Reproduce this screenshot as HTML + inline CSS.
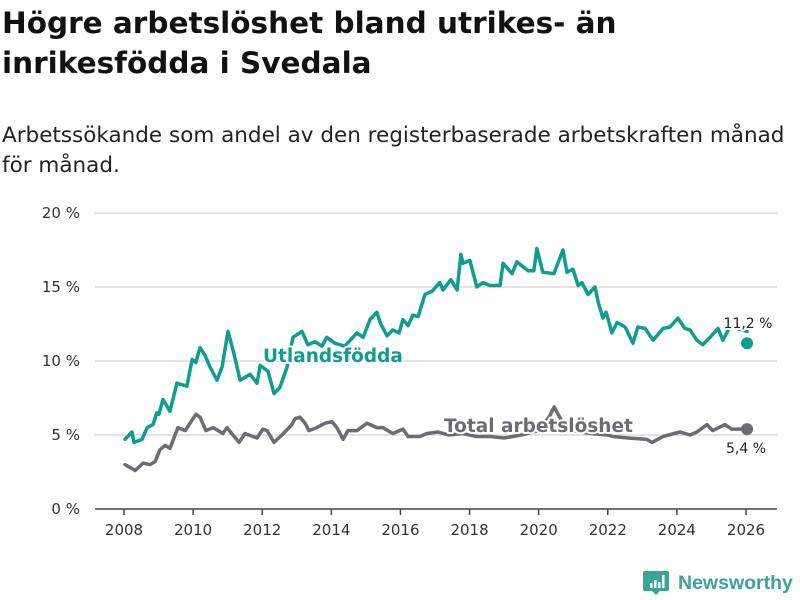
<!DOCTYPE html>
<html><head><meta charset="utf-8"><style>
body{margin:0;background:#fff;width:800px;height:600px;overflow:hidden;font-family:"Liberation Sans","DejaVu Sans",sans-serif;}
#title{position:absolute;left:2px;top:3px;font-size:29.5px;font-weight:bold;line-height:40px;color:#111;font-family:"DejaVu Sans","Liberation Sans",sans-serif;letter-spacing:0px;margin:0}
#sub{position:absolute;left:2px;top:121px;font-size:21.5px;line-height:30px;color:#222;font-family:"DejaVu Sans","Liberation Sans",sans-serif;letter-spacing:0px;margin:0}
svg{position:absolute;left:0;top:0}
</style></head><body>
<h1 id="title">Högre arbetslöshet bland utrikes- än<br>inrikesfödda i Svedala</h1>
<p id="sub">Arbetssökande som andel av den registerbaserade arbetskraften månad<br>för månad.</p>
<svg id="chart" width="800" height="600"></svg>
<script>
const utlYears=[2008.03,2008.23,2008.29,2008.52,2008.67,2008.84,2008.95,2009.01,2009.13,2009.33,2009.53,2009.82,2009.97,2010.08,2010.20,2010.34,2010.49,2010.69,2010.84,2011.01,2011.18,2011.36,2011.65,2011.85,2011.94,2012.17,2012.34,2012.51,2012.72,2012.89,2013.15,2013.32,2013.53,2013.73,2013.87,2014.10,2014.39,2014.74,2014.92,2015.12,2015.32,2015.41,2015.61,2015.78,2015.96,2016.07,2016.22,2016.36,2016.51,2016.71,2016.91,2017.14,2017.23,2017.46,2017.64,2017.75,2017.81,2018.01,2018.21,2018.39,2018.59,2018.88,2018.97,2019.23,2019.37,2019.69,2019.86,2019.95,2020.12,2020.44,2020.70,2020.82,2020.99,2021.14,2021.25,2021.43,2021.63,2021.72,2021.86,2021.95,2022.12,2022.27,2022.50,2022.73,2022.87,2023.08,2023.31,2023.60,2023.80,2024.03,2024.23,2024.38,2024.58,2024.75,2024.96,2025.19,2025.33,2025.53,2025.74,2026.03];
const utlValues=[4.7,5.2,4.5,4.7,5.5,5.7,6.5,6.4,7.4,6.6,8.5,8.3,10.1,9.9,10.9,10.4,9.6,8.7,9.6,12.0,10.5,8.7,9.1,8.5,9.7,9.3,7.8,8.2,9.6,11.6,12.0,11.1,11.3,11.0,11.6,11.2,11.0,11.9,11.6,12.8,13.3,12.6,11.7,12.1,11.9,12.8,12.4,13.1,13.0,14.5,14.7,15.3,14.8,15.5,14.8,17.2,16.6,16.8,15.0,15.3,15.1,15.1,16.6,15.9,16.7,16.1,16.1,17.6,16.0,15.9,17.5,16.0,16.2,15.1,15.3,14.5,15.0,14.0,12.9,13.3,11.9,12.6,12.3,11.2,12.3,12.2,11.4,12.2,12.3,12.9,12.2,12.1,11.4,11.1,11.6,12.2,11.4,12.3,12.2,12.0,11.2];
const totYears=[2008.03,2008.32,2008.55,2008.75,2008.90,2009.04,2009.19,2009.33,2009.56,2009.77,2010.08,2010.20,2010.37,2010.58,2010.86,2010.98,2011.15,2011.33,2011.50,2011.85,2012.02,2012.14,2012.34,2012.57,2012.86,2012.95,2013.09,2013.24,2013.35,2013.58,2013.82,2014.02,2014.16,2014.34,2014.48,2014.74,2015.03,2015.32,2015.49,2015.78,2016.07,2016.22,2016.56,2016.77,2017.09,2017.40,2017.80,2018.20,2018.60,2019.00,2019.50,2020.00,2020.30,2020.45,2020.70,2021.00,2021.50,2022.00,2022.15,2022.60,2023.13,2023.28,2023.60,2024.09,2024.38,2024.58,2024.87,2025.04,2025.39,2025.59,2026.03];
const totValues=[3.0,2.6,3.1,3.0,3.2,4.0,4.3,4.1,5.5,5.3,6.4,6.2,5.3,5.5,5.1,5.5,5.0,4.5,5.1,4.8,5.4,5.3,4.5,5.0,5.7,6.1,6.2,5.8,5.3,5.5,5.8,5.9,5.5,4.7,5.3,5.3,5.8,5.5,5.5,5.1,5.4,4.9,4.9,5.1,5.2,5.0,5.1,4.9,4.9,4.8,5.0,5.3,6.2,6.9,5.8,5.3,5.1,5.0,4.9,4.8,4.7,4.5,4.9,5.2,5.0,5.2,5.7,5.3,5.7,5.4,5.4];
const yTicks=[0,5,10,15,20];
const xTicks=[2008,2010,2012,2014,2016,2018,2020,2022,2024,2026];

const NS='http://www.w3.org/2000/svg';
const svg=document.getElementById('chart');
const X=yr=>124+(yr-2008)*34.556;
const Y=v=>509-v*14.8;
function mk(tag,attrs,parent){const e=document.createElementNS(NS,tag);for(const k in attrs)e.setAttribute(k,attrs[k]);(parent||svg).appendChild(e);return e;}

yTicks.forEach(t=>{
  if(t>0){const g=mk('line',{x1:95,x2:777,y1:Y(t),y2:Y(t),stroke:'#dcdcdc','stroke-width':1.5});
  
  }
  const l=mk('text',{x:80,y:Y(t)+5,'text-anchor':'end','font-size':15,fill:'#333','font-family':'DejaVu Sans, Liberation Sans, sans-serif'});
  l.textContent=t+' %';
  
  
});
const ax=mk('line',{x1:95,x2:777,y1:509,y2:509,stroke:'#444','stroke-width':1.5});


xTicks.forEach(t=>{
  const tk=mk('line',{x1:X(t),x2:X(t),y1:509,y2:515,stroke:'#444','stroke-width':1.5});
  
  
  const l=mk('text',{x:X(t),y:535,'text-anchor':'middle','font-size':15,fill:'#333','font-family':'DejaVu Sans, Liberation Sans, sans-serif'});
  l.textContent=t;
  
  
});
function line(ys,vs,color,name){
  const d=ys.map((y,i)=>(i?'L':'M')+X(y).toFixed(1)+','+Y(vs[i]).toFixed(1)).join('');
  const p=mk('path',{d:d,fill:'none',stroke:color,'stroke-width':3.5,'stroke-linejoin':'round','stroke-linecap':'round'});
  
  
  const c=mk('circle',{cx:X(ys[ys.length-1]),cy:Y(vs[vs.length-1]),r:6,fill:color});
  
  
}
line(totYears,totValues,'#6d6c72','total');
line(utlYears,utlValues,'#0f9e8e','utlandsfodda');
function lab(x,y,txt,color,size,weight,anchor,name){
  const t=mk('text',{x:x,y:y,'text-anchor':anchor,'font-size':size,'font-weight':weight,fill:color,stroke:'#fff','stroke-width':4,'paint-order':'stroke','stroke-linejoin':'round','font-family':'DejaVu Sans, Liberation Sans, sans-serif'});
  t.textContent=txt;
  
  
}
lab(263,362,'Utlandsfödda','#0f9e8e',18.5,'bold','start','series-label-utlandsfodda');
lab(444,432,'Total arbetslöshet','#6d6c72',18.5,'bold','start','series-label-total');
lab(748,328,'11,2 %','#222',14,'normal','middle','end-value-utlandsfodda');
lab(746,453,'5,4 %','#222',14,'normal','middle','end-value-total');
// logo
const lg=mk('g',{});


mk('path',{d:'M645,571 h22 a2,2 0 0 1 2,2 v16 a2,2 0 0 1 -2,2 h-7 l-4,4 l-4,-4 h-7 a2,2 0 0 1 -2,-2 v-16 a2,2 0 0 1 2,-2z',fill:'#3aa497'},lg);
mk('rect',{x:650,y:583,width:2.5,height:5,fill:'#fff'},lg);
mk('rect',{x:654,y:580,width:2.5,height:8,fill:'#fff'},lg);
mk('rect',{x:658,y:582,width:2.5,height:6,fill:'#fff'},lg);
mk('rect',{x:662,y:575,width:2.5,height:13,fill:'#fff'},lg);
const lt=mk('text',{x:678,y:589,'font-size':19.5,'font-weight':'bold',fill:'#3aa497','font-family':'Liberation Sans, sans-serif'},lg);
lt.textContent='Newsworthy';
</script>
</body></html>
